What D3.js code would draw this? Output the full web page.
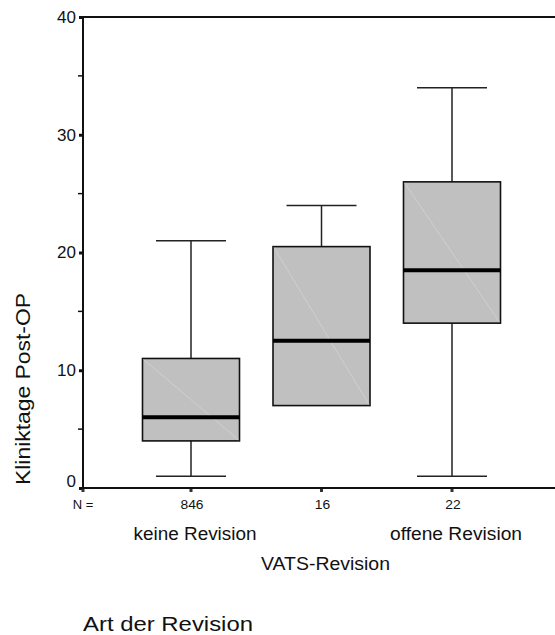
<!DOCTYPE html>
<html>
<head>
<meta charset="utf-8">
<script src="https://cdn.jsdelivr.net/npm/d3@7"></script>
<style>
  html, body { margin: 0; padding: 0; background: #fff; }
  svg { display: block; font-family: "Liberation Sans", Arial, sans-serif; }
</style>
</head>
<body>
<svg id="chart" width="555" height="635"></svg>
<script>
// Length of hospital stay after surgery, by type of revision
const categories = ["keine Revision", "VATS-Revision", "offene Revision"];
const counts = [846, 16, 22];
const whiskerLow = [1, 7, 1];
const q1 = [4, 7, 14];
const median = [6, 12.5, 18.5];
const q3 = [11, 20.5, 26];
const whiskerHigh = [21, 24, 34];
const yTicks = [0, 10, 20, 30, 40];
const yMinorTicks = [5, 15, 25, 35];

const svg = d3.select("#chart");
const plot = { left: 83, top: 17, bottom: 488, right: 555 };

const y = d3.scaleLinear().domain([0, 40]).range([plot.bottom, plot.top]);
const x = d3.scalePoint().domain(categories).range([191, 452]);

const boxW = 97, capW = 70;

// frame: top border
svg.append("line").attr("x1", plot.left).attr("x2", plot.right)
  .attr("y1", plot.top).attr("y2", plot.top)
  .attr("stroke", "#111").attr("stroke-width", 2);

// boxes
const g = svg.append("g");
categories.forEach((c, i) => {
  const cx = x(c);
  const lo = whiskerLow[i], hi = whiskerHigh[i];
  // whiskers
  g.append("line").attr("x1", cx).attr("x2", cx)
    .attr("y1", y(hi)).attr("y2", y(q3[i]))
    .attr("stroke", "#222").attr("stroke-width", 1.5);
  g.append("line").attr("x1", cx).attr("x2", cx)
    .attr("y1", y(q1[i])).attr("y2", y(lo))
    .attr("stroke", "#222").attr("stroke-width", 1.5);
  g.append("line").attr("x1", cx - capW / 2).attr("x2", cx + capW / 2)
    .attr("y1", y(hi)).attr("y2", y(hi))
    .attr("stroke", "#222").attr("stroke-width", 1.5);
  if (lo < q1[i]) {
    g.append("line").attr("x1", cx - capW / 2).attr("x2", cx + capW / 2)
      .attr("y1", y(lo)).attr("y2", y(lo))
      .attr("stroke", "#222").attr("stroke-width", 1.5);
  }
  // box
  g.append("rect").attr("x", cx - boxW / 2).attr("y", y(q3[i]))
    .attr("width", boxW).attr("height", y(q1[i]) - y(q3[i]))
    .attr("fill", "#c0c0c0").attr("stroke", "#111").attr("stroke-width", 1.6);
  // faint diagonal inside the box
  g.append("line").attr("x1", cx - boxW / 2 + 1).attr("y1", y(q3[i]) + 1)
    .attr("x2", cx + boxW / 2 - 1).attr("y2", y(q1[i]) - 1)
    .attr("stroke", "#d6d6d6").attr("stroke-width", 0.7);
  // median
  g.append("line").attr("x1", cx - boxW / 2).attr("x2", cx + boxW / 2)
    .attr("y1", y(median[i])).attr("y2", y(median[i]))
    .attr("stroke", "#000").attr("stroke-width", 4);
});

// y axis
const yAxis = d3.axisLeft(y).tickValues(yTicks).tickSize(4).tickPadding(3)
  .tickFormat(d3.format("d"));
const ya = svg.append("g").attr("transform", `translate(${plot.left},0)`).call(yAxis);
ya.select(".domain").remove();
ya.selectAll(".tick line").attr("stroke", "#111").attr("stroke-width", 3);
ya.selectAll(".tick text").attr("font-size", 17).attr("fill", "#111")
  .attr("font-family", "Liberation Sans, Arial, sans-serif")
  .attr("dy", d => d === 0 ? "-0.1em" : "0.32em");
svg.append("g").selectAll("line").data(yMinorTicks).join("line")
  .attr("x1", plot.left - 5).attr("x2", plot.left)
  .attr("y1", d => y(d)).attr("y2", d => y(d))
  .attr("stroke", "#111").attr("stroke-width", 1.5);
svg.append("line").attr("x1", plot.left).attr("x2", plot.left)
  .attr("y1", plot.top - 1).attr("y2", plot.bottom + 1)
  .attr("stroke", "#111").attr("stroke-width", 2);

// x axis
svg.append("line").attr("x1", plot.left).attr("x2", plot.right)
  .attr("y1", plot.bottom).attr("y2", plot.bottom)
  .attr("stroke", "#111").attr("stroke-width", 2);
svg.append("g").selectAll("rect").data([plot.left].concat(categories.map(c => x(c))))
  .join("rect")
  .attr("x", d => d - 1.5).attr("y", plot.bottom + 1).attr("width", 3).attr("height", 3)
  .attr("fill", "#333");

// case counts
svg.append("text").attr("x", 83).attr("y", 509).attr("text-anchor", "middle")
  .attr("font-size", 13).attr("fill", "#111").text("N =");
svg.append("g").selectAll("text").data(categories).join("text")
  .attr("x", c => x(c) + 1).attr("y", 509).attr("text-anchor", "middle")
  .attr("font-size", 13).attr("fill", "#111")
  .attr("textLength", (c, i) => String(counts[i]).length * 7.7)
  .attr("lengthAdjust", "spacingAndGlyphs")
  .text((c, i) => counts[i]);

// category labels, staggered on two rows
const labelWidths = [123, 129, 132];
svg.append("g").selectAll("text").data(categories).join("text")
  .attr("x", c => x(c) + 4).attr("y", (c, i) => i % 2 === 0 ? 540 : 570)
  .attr("text-anchor", "middle").attr("font-size", 18).attr("fill", "#111")
  .attr("textLength", (c, i) => labelWidths[i])
  .attr("lengthAdjust", "spacingAndGlyphs")
  .text(c => c);

// axis titles
svg.append("text").attr("x", 83).attr("y", 631)
  .attr("font-size", 20).attr("fill", "#111")
  .attr("textLength", 170).attr("lengthAdjust", "spacingAndGlyphs")
  .text("Art der Revision");
svg.append("text").attr("transform", "translate(30,389) rotate(-90)")
  .attr("text-anchor", "middle").attr("font-size", 20).attr("fill", "#111")
  .attr("textLength", 192).attr("lengthAdjust", "spacingAndGlyphs")
  .text("Kliniktage Post-OP");
</script>
</body>
</html>
